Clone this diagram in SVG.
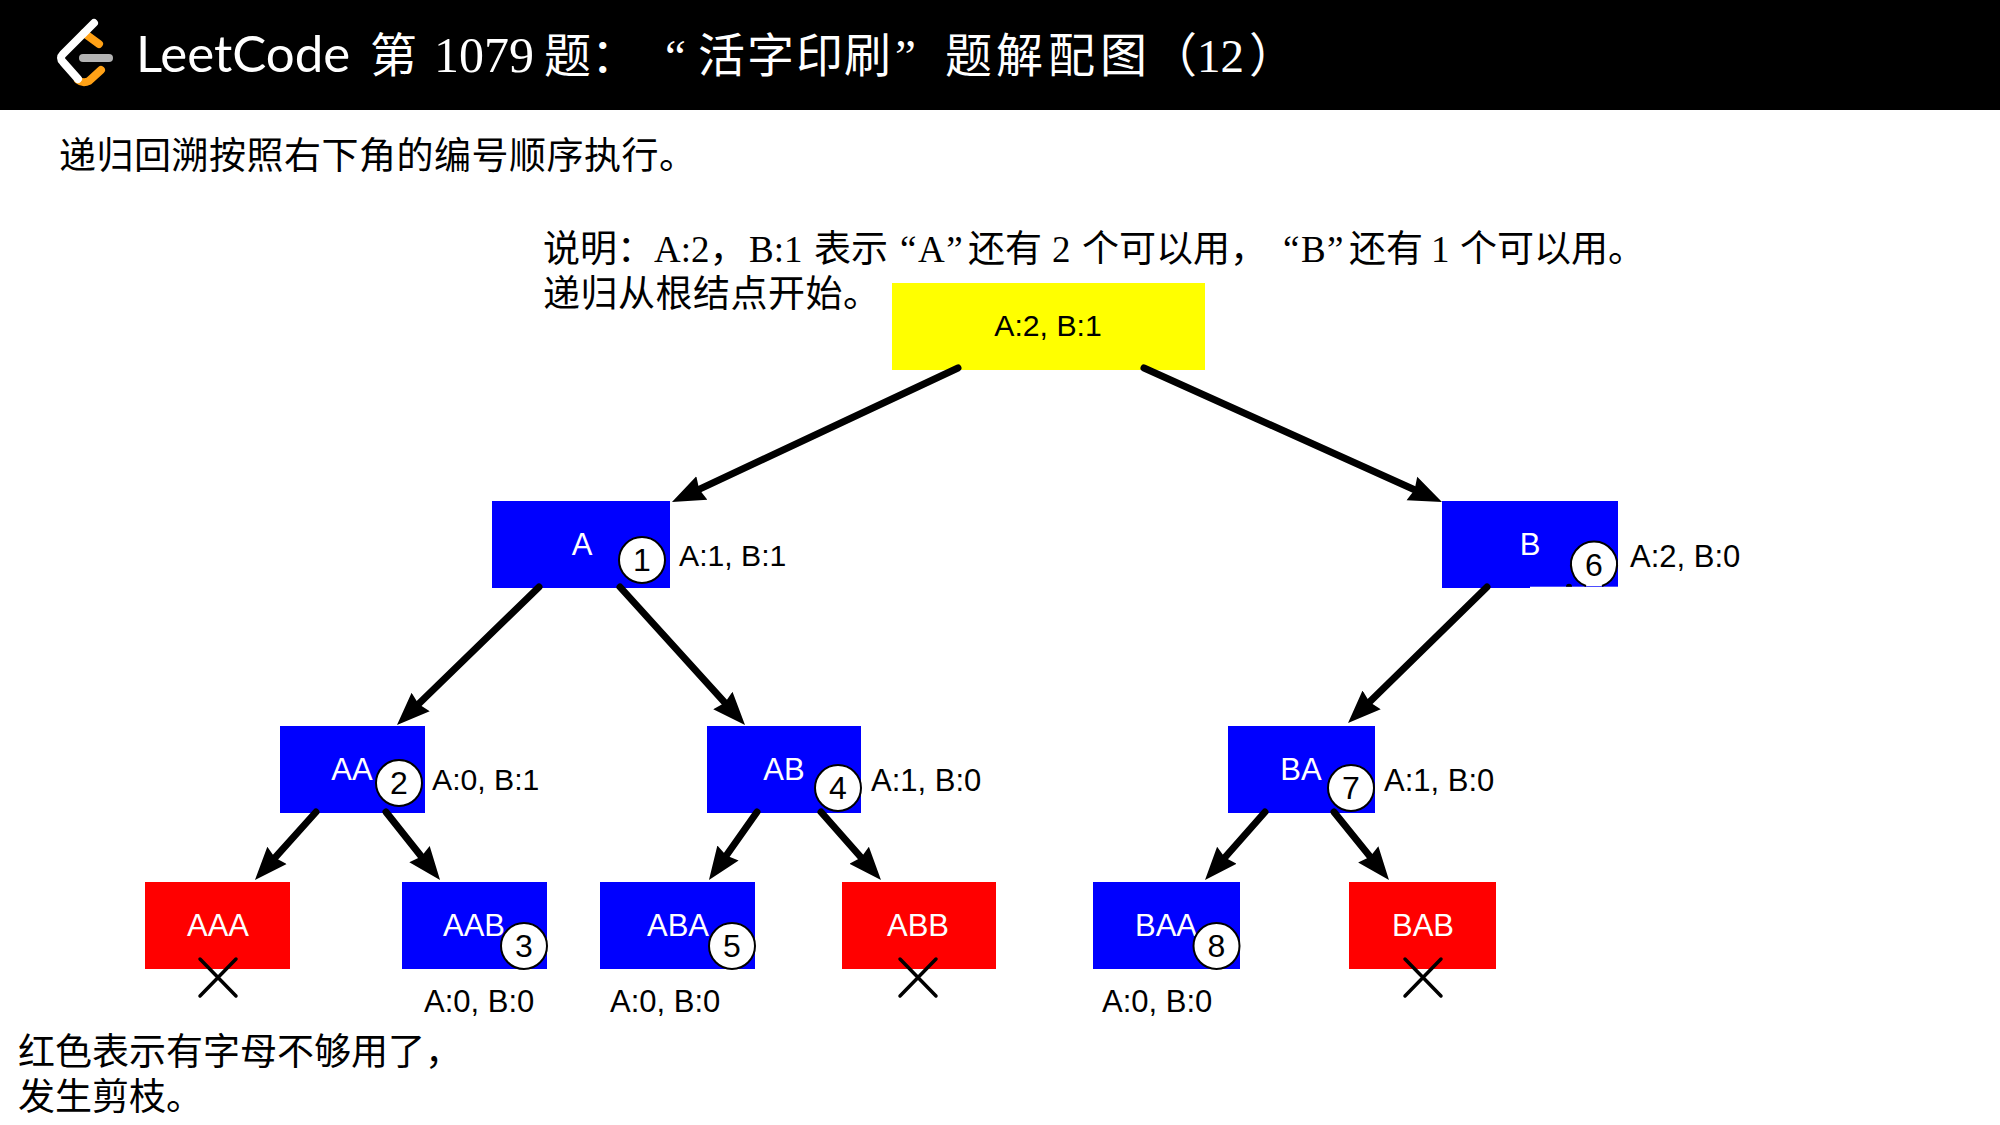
<svg xmlns="http://www.w3.org/2000/svg" width="2000" height="1125" viewBox="0 0 2000 1125">
<style>
.cjk{font-family:"Liberation Serif","Noto Sans CJK SC",serif;font-size:37px;fill:#000}
.ls{letter-spacing:.5px}
.ttl{font-family:"Liberation Serif","Noto Sans CJK SC",serif;font-size:47px;fill:#fff}
.dg{font-size:50px}
.lbl{font-family:"Liberation Sans",Arial,sans-serif;font-size:31px;fill:#000}
.one{font-size:30.2px}
.in{font-family:"Liberation Sans",Arial,sans-serif;font-size:31px;fill:#fff;text-anchor:middle}
.num{font-family:"Liberation Sans",Arial,sans-serif;font-size:32px;fill:#000;text-anchor:middle}
.b{fill:#00f}.r{fill:#f00}.y{fill:#ff0}
.c{fill:#fff;stroke:#000;stroke-width:2}
.e{stroke:#000;stroke-width:7;stroke-linecap:round;fill:none;marker-end:url(#ah)}
.x{stroke:#000;stroke-width:3.5;stroke-linecap:round;fill:none}
</style>
<defs><marker id="ah" markerUnits="userSpaceOnUse" markerWidth="38" markerHeight="32" refX="9" refY="14" orient="auto"><path d="M0,1 L33,14 L0,27 L3,14 Z" fill="#000"/></marker></defs>
<rect width="2000" height="1125" fill="#fff"/>
<g id="header">
<rect width="2000" height="110" fill="#000"/>
<g id="logo" fill="none" stroke-linecap="round" stroke-width="8">
<path d="M84,33 L99,44 M101,70 L89,81 Q83,84 78,80" stroke="#ffa116"/>
<path d="M94,23 L63,54 Q59,58 63,62 L78,79" stroke="#fff"/>
<path d="M83,58 H109" stroke="#b3b3b3"/>
</g>
<text x="136" y="72" font-family="Lato,sans-serif" font-size="51" font-weight="400" fill="#fff">LeetCode</text>
<text class="ttl" y="72"><tspan x="370">第</tspan><tspan class="dg" x="434">1079</tspan><tspan x="544">题：</tspan><tspan x="665">“</tspan><tspan x="698">活</tspan><tspan x="747">字</tspan><tspan x="796">印</tspan><tspan x="844">刷</tspan><tspan x="895">”</tspan><tspan x="945">题</tspan><tspan x="996">解</tspan><tspan x="1048">配</tspan><tspan x="1100">图</tspan><tspan x="1150">（</tspan><tspan x="1197">12</tspan><tspan x="1249">）</tspan></text>
</g>
<text class="cjk ls" x="59" y="169">递归回溯按照右下角的编号顺序执行。</text>
<text class="cjk" y="262"><tspan x="543">说明：</tspan><tspan x="654">A:2，</tspan><tspan x="749">B:1</tspan><tspan x="814">表示</tspan><tspan x="900" letter-spacing="1.5">“A”</tspan><tspan x="968">还有</tspan><tspan x="1052">2</tspan><tspan x="1082">个可以用，</tspan><tspan x="1283" letter-spacing="1.5">“B”</tspan><tspan x="1349">还有</tspan><tspan x="1431">1</tspan><tspan x="1460">个可以用。</tspan></text>
<text class="cjk ls" x="543" y="307">递归从根结点开始。</text>
<text class="cjk" x="18" y="1065">红色表示有字母不够用了，</text>
<text class="cjk" x="18" y="1110">发生剪枝。</text>
<g id="nodes">
<g id="root"><rect class="y" x="892" y="283" width="313" height="87"/><text class="lbl one" x="1048" y="336" text-anchor="middle">A:2, B:1</text></g>
<g id="n-A"><rect class="b" x="492" y="501" width="178" height="87"/><text class="in" x="582" y="555">A</text><circle class="c" cx="642" cy="560" r="23"/><text class="num" x="642" y="571">1</text><text class="lbl one" x="679" y="566">A:1, B:1</text></g>
<g id="n-B"><rect class="b" x="1442" y="501" width="176" height="87"/><rect x="1530" y="586.7" width="89" height="2" fill="#fff"/><text class="in" x="1530" y="555">B</text><path class="c" d="M1586,586 A23,23 0 1 1 1602,586"/><path d="M1566,586.7 A3,3 0 0 1 1572,586.7 Z" fill="#000"/><text class="num" x="1594" y="576">6</text><text class="lbl" x="1630" y="566.5">A:2, B:0</text></g>
<g id="n-AA"><rect class="b" x="280" y="726" width="145" height="87"/><text class="in" x="352" y="780">AA</text><circle class="c" cx="399" cy="783" r="23"/><text class="num" x="399" y="794">2</text><text class="lbl one" x="432" y="790">A:0, B:1</text></g>
<g id="n-AB"><rect class="b" x="707" y="726" width="154" height="87"/><text class="in" x="784" y="780">AB</text><circle class="c" cx="838" cy="788" r="23"/><text class="num" x="838" y="799">4</text><text class="lbl" x="871" y="790.5">A:1, B:0</text></g>
<g id="n-BA"><rect class="b" x="1228" y="726" width="147" height="87"/><text class="in" x="1301" y="780">BA</text><circle class="c" cx="1351" cy="788" r="23"/><text class="num" x="1351" y="799">7</text><text class="lbl" x="1384" y="790.5">A:1, B:0</text></g>
<g id="n-AAA"><rect class="r" x="145" y="882" width="145" height="87"/><text class="in" x="218" y="935.5">AAA</text><path class="x" d="M200,959 L236,996 M236,959 L200,996"/></g>
<g id="n-AAB"><rect class="b" x="402" y="882" width="145" height="87"/><text class="in" x="474" y="935.5">AAB</text><circle class="c" cx="524" cy="946" r="23"/><text class="num" x="524" y="957">3</text><text class="lbl" x="424" y="1011.5">A:0, B:0</text></g>
<g id="n-ABA"><rect class="b" x="600" y="882" width="155" height="87"/><text class="in" x="678" y="935.5">ABA</text><circle class="c" cx="732" cy="946" r="23"/><text class="num" x="732" y="957">5</text><text class="lbl" x="610" y="1011.5">A:0, B:0</text></g>
<g id="n-ABB"><rect class="r" x="842" y="882" width="154" height="87"/><text class="in" x="918" y="935.5">ABB</text><path class="x" d="M900,959 L936,996 M936,959 L900,996"/></g>
<g id="n-BAA"><rect class="b" x="1093" y="882" width="147" height="87"/><text class="in" x="1166" y="935.5">BAA</text><circle class="c" cx="1216.5" cy="946" r="23"/><text class="num" x="1216.5" y="957">8</text><text class="lbl" x="1102" y="1011.5">A:0, B:0</text></g>
<g id="n-BAB"><rect class="r" x="1349" y="882" width="147" height="87"/><text class="in" x="1423" y="935.5">BAB</text><path class="x" d="M1405,959 L1441,996 M1441,959 L1405,996"/></g>
</g>
<g id="connectors">
<line class="e" x1="958" y1="368" x2="693.7" y2="491.8"/>
<line class="e" x1="1144" y1="368" x2="1420.1" y2="492.2"/>
<line class="e" x1="539" y1="587" x2="414.2" y2="708.3"/>
<line class="e" x1="620" y1="587" x2="728.9" y2="707.2"/>
<line class="e" x1="1487" y1="587" x2="1365.2" y2="706.2"/>
<line class="e" x1="316" y1="812" x2="271" y2="862.1"/>
<line class="e" x1="386" y1="812" x2="425.1" y2="861.2"/>
<line class="e" x1="757" y1="812" x2="722.8" y2="860.4"/>
<line class="e" x1="821" y1="812" x2="865.1" y2="862"/>
<line class="e" x1="1265" y1="812" x2="1220.9" y2="862"/>
<line class="e" x1="1334" y1="812" x2="1373.9" y2="861.4"/>
</g>
</svg>
